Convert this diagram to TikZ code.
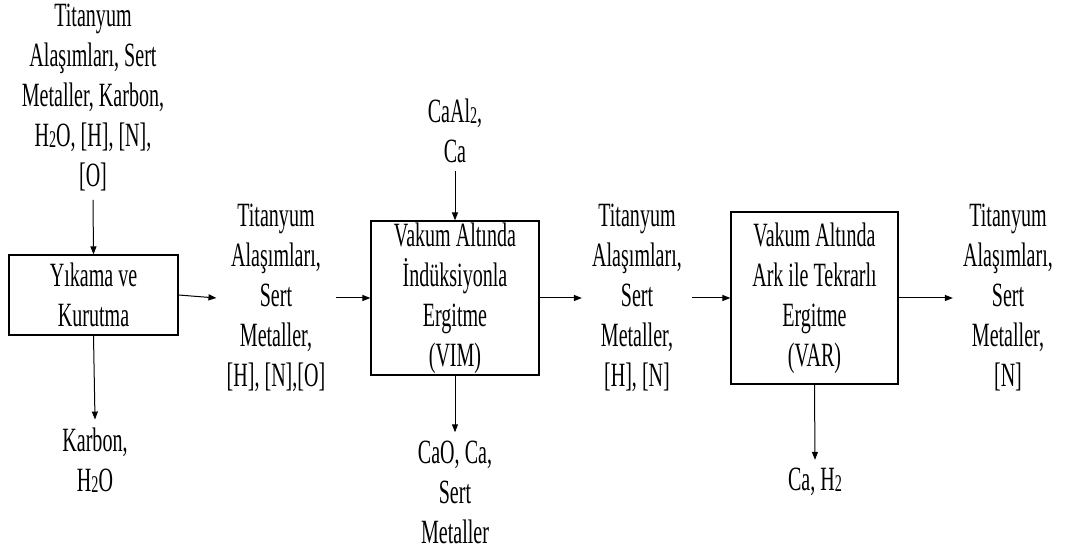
\documentclass[tikz,border=0pt]{standalone}
\usepackage{fontspec}
\setmainfont{Liberation Serif}[FakeStretch=0.59]
\usetikzlibrary{positioning,arrows.meta}
\newcommand{\idx}[1]{\raisebox{-0.6pt}{\fontsize{18}{18}\selectfont #1}}

\begin{document}
\begin{tikzpicture}[
  x=0.75pt, y=-0.75pt,
  font=\fontsize{25.5}{30}\selectfont,
  box/.style={draw, line width=0.9pt, align=center, inner sep=0pt},
  lbl/.style={align=center, inner xsep=7.5pt, inner ysep=6pt},
  arr/.style={-{Triangle[length=6pt,width=4.5pt]}, line width=0.75pt},
]
\useasboundingbox (0,0) rectangle (1065,549);

% Yikama ve kurutma
\node[lbl] (feed) at (93,98) {Titanyum\\Alaşımları, Sert\\Metaller, Karbon,\\H\idx{2}O, [H], [N],\\{}[O]};
\node[box, minimum width=126.75pt, minimum height=60pt] (wash) at (93.5,295) {Yıkama ve\\Kurutma};
\node[lbl] (waste) at (95,460) {Karbon,\\H\idx{2}O};

% VIM
\node[lbl] (mid1) at (276,298) {Titanyum\\Alaşımları,\\Sert\\Metaller,\\{}[H], [N],[O]};
\node[box, minimum width=126pt, minimum height=115.5pt] (vim) at (455,298) {Vakum Altında\\İndüksiyonla\\Ergitme\\(VIM)};
\node[lbl] (addin) at (455,131) {CaAl\idx{2},\\Ca};
\node[lbl] (slag) at (455,492) {CaO, Ca,\\Sert\\Metaller};

% VAR
\node[lbl] (mid2) at (637,298) {Titanyum\\Alaşımları,\\Sert\\Metaller,\\{}[H], [N]};
\node[box, minimum width=125.25pt, minimum height=129pt] (var) at (814.5,298) {Vakum Altında\\Ark ile Tekrarlı\\Ergitme\\(VAR)};
\node[lbl] (gas) at (815,482) {Ca, H\idx{2}};
\node[lbl] (prod) at (1008,298) {Titanyum\\Alaşımları,\\Sert\\Metaller,\\{}[N]};

% Arrows
\draw[arr] (feed.south) -- (wash.north);
\draw[arr] (wash.south) -- (waste.north);
\draw[arr] (wash.east) -- (mid1.west);
\draw[arr] (mid1.east) -- (vim.west);
\draw[arr] (addin.south) -- (vim.north);
\draw[arr] (vim.south) -- (slag.north);
\draw[arr] (vim.east) -- (mid2.west);
\draw[arr] (mid2.east) -- (var.west);
\draw[arr] (var.south) -- (gas.north);
\draw[arr] (var.east) -- (prod.west);
\end{tikzpicture}
\end{document}
